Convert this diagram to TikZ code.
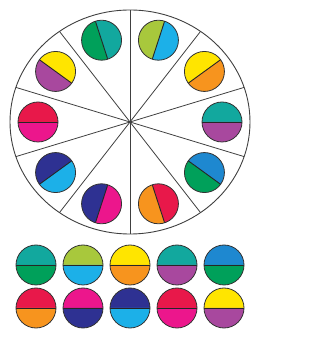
\documentclass[tikz,border=0pt]{standalone}
\usepackage{tikz}
\usetikzlibrary{calc}
\definecolor{cteal}{RGB}{18,168,158}
\definecolor{cgreen}{RGB}{0,160,90}
\definecolor{clime}{RGB}{168,200,60}
\definecolor{csky}{RGB}{28,176,232}
\definecolor{cyellow}{RGB}{255,229,0}
\definecolor{corange}{RGB}{247,148,30}
\definecolor{cpurple}{RGB}{168,72,158}
\definecolor{cblue}{RGB}{30,136,208}
\definecolor{cred}{RGB}{232,24,74}
\definecolor{cpink}{RGB}{236,22,140}
\definecolor{cnavy}{RGB}{46,49,146}

\begin{document}
\begin{tikzpicture}[
    x=1pt, y=1pt,
    rim/.style={draw=black!75, line width=0.9pt},
    spoke/.style={draw=black!75, line width=0.8pt},
    cut/.style={draw=black!85, line width=0.9pt},
    discedge/.style={draw=black!80, line width=0.8pt}
]
    \useasboundingbox (0,0) rectangle (326,342);
    \coordinate (hub) at (130,220);

    % wheel with ten sectors
    \draw[rim] (hub) ellipse [x radius=120, y radius=112];
    \foreach \k in {0,...,9}
        \draw[spoke] (hub) -- ($(hub)+({120*cos(90+36*\k)},{112*sin(90+36*\k)})$);

    % two-coloured discs inside the sectors
    \foreach \t/\ca/\cb in {108/cgreen/cteal, 72/clime/csky, 36/cyellow/corange,
            0/cteal/cpurple, -36/cblue/cgreen, -72/cred/corange, -108/cpink/cnavy,
            -144/csky/cnavy, 180/cpink/cred, 144/cpurple/cyellow} {
        \coordinate (d\t) at ($(hub)+({92*cos(\t)},{86*sin(\t)})$);
        \fill[\ca] ($(d\t)+(\t:20)$) arc[start angle=\t, delta angle=180, radius=20] -- cycle;
        \fill[\cb] ($(d\t)+(\t:20)$) arc[start angle=\t, delta angle=-180, radius=20] -- cycle;
        \draw[cut] ($(d\t)+(\t:20)$) -- ($(d\t)-(\t:20)$);
        \draw[discedge] (d\t) circle[radius=20];
    }

    % answer discs, two rows
    \foreach \row/\y/\list in {a/77/{0/cteal/cgreen, 1/clime/csky, 2/cyellow/corange, 3/cteal/cpurple, 4/cblue/cgreen},
            b/34/{0/cred/corange, 1/cpink/cnavy, 2/cnavy/csky, 3/cred/cpink, 4/cyellow/cpurple}} {
        \foreach \i/\ca/\cb in \list {
            \coordinate (\row\i) at ({36+47*\i},\y);
            \fill[\ca] ($(\row\i)+(20,0)$) arc[start angle=0, end angle=180, radius=20] -- cycle;
            \fill[\cb] ($(\row\i)+(20,0)$) arc[start angle=0, end angle=-180, radius=20] -- cycle;
            \draw[cut] ($(\row\i)+(20,0)$) -- ($(\row\i)-(20,0)$);
            \draw[discedge] (\row\i) circle[radius=20];
        }
    }
\end{tikzpicture}
\end{document}
